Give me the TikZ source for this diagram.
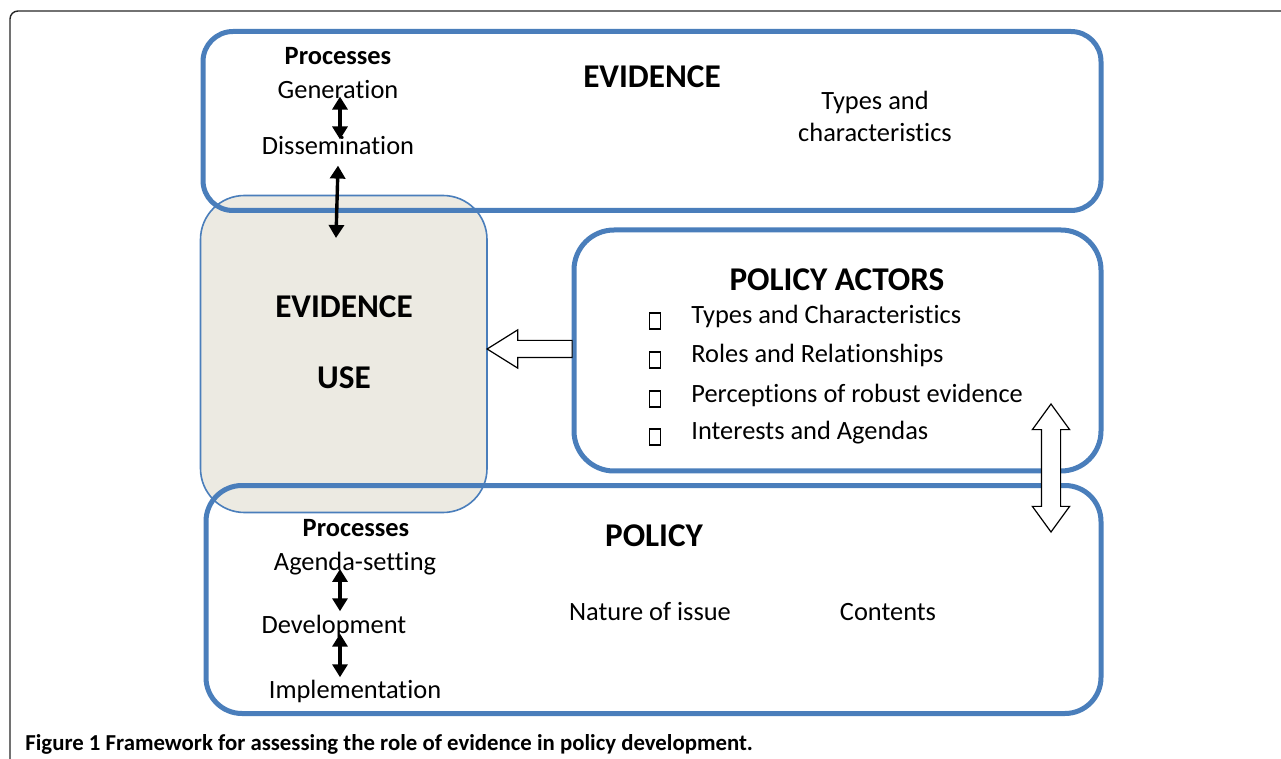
\documentclass[tikz,border=0pt]{standalone}
\usepackage{fontspec}
\setmainfont{Carlito}[RawFeature={-liga;-clig;-calt;-dlig}]
\usepackage{tikz}
\usetikzlibrary{arrows,arrows.meta,shapes,fit}
\definecolor{boxblue}{RGB}{74,126,187}
\definecolor{usefill}{RGB}{236,234,226}

\begin{document}
\begin{tikzpicture}
                [
                x=0.5pt,y=-0.5pt,
                bigbox/.style={draw=boxblue,line width=2.5pt,inner sep=0pt},
                usebox/.style={draw=boxblue,fill=usefill,line width=0.8pt,rounded corners=22pt,inner sep=0pt},
                txt/.style={inner sep=0pt,anchor=base,font=\fontsize{13.2}{16}\selectfont},
                head/.style={txt,font=\fontsize{13.2}{16}\selectfont\bfseries},
                title/.style={inner sep=0pt,anchor=base,font=\fontsize{16.6}{20}\selectfont\bfseries},
                item/.style={txt,anchor=base west},
                bullet/.style={draw,line width=0.9pt,minimum width=5.5pt,minimum height=8pt,inner sep=0pt},
                edge/.style={{Triangle[width=7.5pt,length=6.5pt]}-{Triangle[width=7.5pt,length=6.5pt]},line width=1.7pt},
                hollow/.style={draw,fill=white,line width=0.6pt}
                ]
            \useasboundingbox (0,0) rectangle (1281,759);
            \draw[line width=0.7pt,rounded corners=4pt,black!85] (10,759) -- (10,11) -- (1281,11);
            % boxes
            \node[usebox,minimum width=143.25pt,minimum height=158.5pt] (use) at (343.75,354) {};
            \node[bigbox,rounded corners=15pt,minimum width=449pt,minimum height=89.5pt] (evidence) at (652,121) {};
            \node[bigbox,rounded corners=20pt,minimum width=263.5pt,minimum height=120.5pt] (actors) at (837.5,350.5) {};
            \node[bigbox,rounded corners=18pt,minimum width=447.5pt,minimum height=114pt] (policy) at (653.5,599.5) {};
            % evidence
            \node[head] (evproc) at (338,65) {Processes};
            \node[txt] (gen) at (338,99) {Generation};
            \node[txt] (diss) at (338,155) {Dissemination};
            \node[title] (evtitle) at (652,88) {EVIDENCE};
            \node[txt] (evtypes) at (875,110) {Types and};
            \node[txt] (evchar) at (875,142) {characteristics};
            % evidence use
            \node[title] (usetitle) at (344,318) {EVIDENCE};
            \node[title] (useword) at (344,389) {USE};
            % policy actors
            \node[title] (actitle) at (837,291) {POLICY ACTORS};
            \node[bullet] (b1) at (655,321) {};
            \node[bullet] (b2) at (655,360) {};
            \node[bullet] (b3) at (655,399) {};
            \node[bullet] (b4) at (655,437) {};
            \node[item] (i1) at (691,324) {Types and Characteristics};
            \node[item] (i2) at (691,363) {Roles and Relationships};
            \node[item] (i3) at (691,402) {Perceptions of robust evidence};
            \node[item] (i4) at (691,440) {Interests and Agendas};
            % policy
            \node[head] (polproc) at (356,536) {Processes};
            \node[txt] (agenda) at (355,570) {Agenda-setting};
            \node[txt] (dev) at (334,633) {Development};
            \node[txt] (impl) at (355,698) {Implementation};
            \node[title] (poltitle) at (654,546) {POLICY};
            \node[txt] (nature) at (650,620) {Nature of issue};
            \node[txt] (contents) at (888,620) {Contents};
            % hollow arrows
            \node[hollow,single arrow,shape border rotate=180,inner sep=4pt,single arrow head extend=5.25pt,
                  single arrow tip angle=64,minimum height=42.5pt] (toUse) at (536.5,349) {};
            \node[hollow,double arrow,shape border rotate=90,inner sep=4.5pt,double arrow head extend=4.5pt,
                  double arrow tip angle=72,minimum height=64pt] (actpol) at (1051,468) {};
            % connectors
            \coordinate (usein) at (336,238);
            \draw[edge] ([xshift=1pt,yshift=1.5pt]gen.south) -- ([xshift=1pt,yshift=-1.5pt]diss.north);
            \draw[edge] ([yshift=-5pt]diss.south) -- (usein);
            \draw[edge] ([yshift=3pt]agenda.south -| 340,0) -- ([yshift=1.5pt]dev.north -| 340,0);
            \draw[edge] ([yshift=2pt]dev.south -| 340,0) -- ([yshift=1pt]impl.north -| 340,0);
            % caption
            \node[inner sep=0pt,anchor=base west,font=\fontsize{11.4}{13}\selectfont\bfseries] (caption) at (25,750)
                {Figure 1 Framework for assessing the role of evidence in policy development.};
\end{tikzpicture}
\end{document}
